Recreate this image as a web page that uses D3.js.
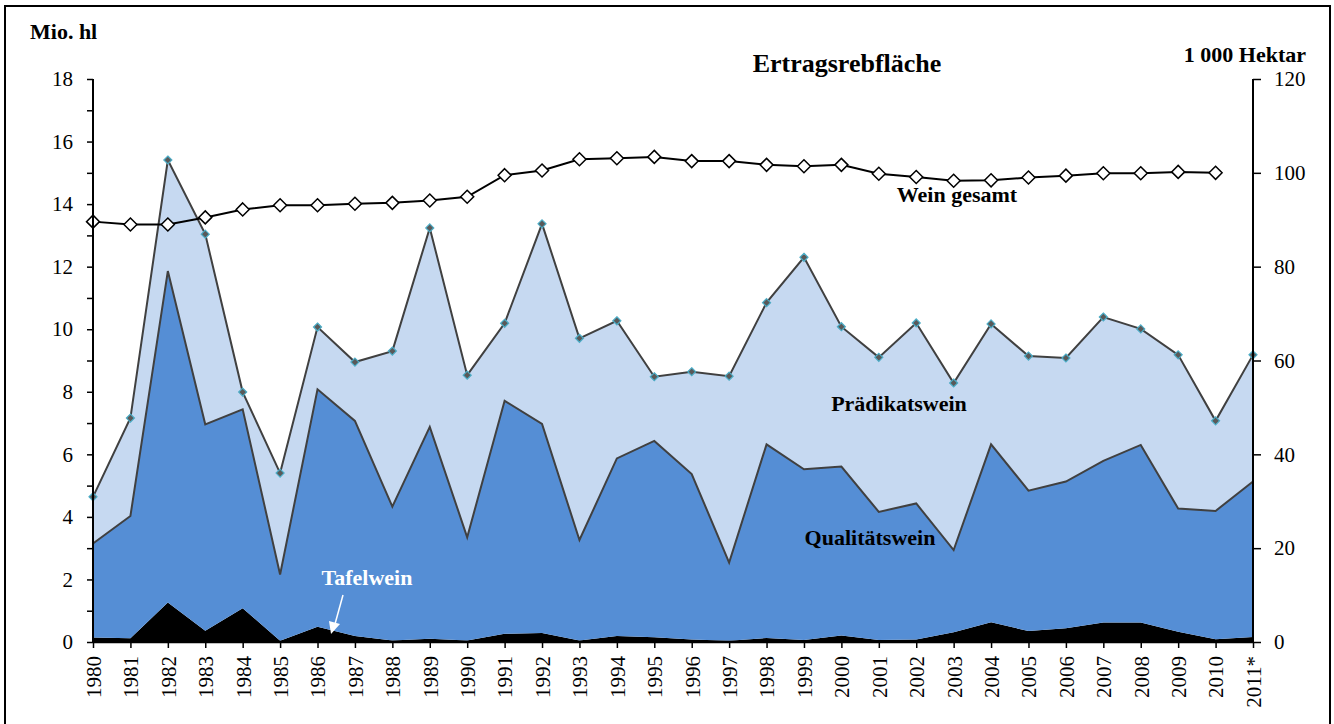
<!DOCTYPE html>
<meta charset="utf-8">
<style>
body { margin: 0; background: #fff; }
text { font-family: "Liberation Serif", "Times New Roman", serif; }
.lbl { font-weight: bold; }
</style>
<svg width="1334" height="724"></svg>
<script src="https://cdn.jsdelivr.net/npm/d3@7"></script>
<script>
var years = ["1980","1981","1982","1983","1984","1985","1986","1987","1988","1989",
  "1990","1991","1992","1993","1994","1995","1996","1997","1998","1999",
  "2000","2001","2002","2003","2004","2005","2006","2007","2008","2009","2010","2011*"];

// Mio. hl, stacked from the bottom
var tafelwein = [0.14,0.12,1.26,0.36,1.08,0.04,0.49,0.19,0.05,0.10,
  0.05,0.26,0.29,0.05,0.19,0.15,0.08,0.04,0.13,0.06,
  0.21,0.06,0.08,0.31,0.63,0.35,0.44,0.62,0.62,0.33,0.09,0.16];
var qualitaetswein = [3.01,3.91,10.60,6.60,6.36,2.12,7.59,6.88,4.28,6.78,
  3.30,7.45,6.68,3.21,5.68,6.28,5.29,2.50,6.19,5.46,
  5.40,4.10,4.35,2.63,5.69,4.49,4.69,5.17,5.68,3.94,4.10,4.97];
var praedikatswein = [1.49,3.13,3.55,6.08,0.55,3.24,1.99,1.88,4.97,6.36,
  5.18,2.48,6.40,6.45,4.40,2.05,3.27,5.96,4.53,6.78,
  4.47,4.94,5.77,5.34,3.85,4.30,3.95,4.60,3.71,4.91,2.88,4.05];

// Ertragsrebfläche, 1 000 Hektar (right axis), 1980-2010
var weinGesamt = [89.6,89.0,89.0,90.5,92.2,93.1,93.1,93.4,93.6,94.1,
  94.9,99.5,100.5,102.9,103.1,103.4,102.5,102.5,101.7,101.4,
  101.7,99.8,99.1,98.3,98.4,99.0,99.4,99.9,99.9,100.2,100.0];

var leftTicks = [0,2,4,6,8,10,12,14,16,18];
var rightTicks = [0,20,40,60,80,100,120];

var svg = d3.select("svg");

var x = d3.scalePoint().domain(years).range([93, 1253]);
var y = d3.scaleLinear().domain([0, 18]).range([642, 79]);
var y2 = d3.scaleLinear().domain([0, 120]).range([642, 79]);

var rows = years.map(function(yr, i) {
  return { year: yr, taf: tafelwein[i], qual: qualitaetswein[i], praed: praedikatswein[i] };
});
var series = d3.stack().keys(["taf", "qual", "praed"])(rows);
var fills = { taf: "#000000", qual: "#558ED5", praed: "#C6D9F1" };

function diamondPath(r) {
  return "M0," + (-r) + "L" + r + ",0L0," + r + "L" + (-r) + ",0Z";
}

// frame
svg.append("rect")
  .attr("x", 5).attr("y", 6).attr("width", 1325).attr("height", 730)
  .attr("fill", "none").attr("stroke", "#000").attr("stroke-width", 2);

var area = d3.area()
  .x(function(d) { return x(d.data.year); })
  .y0(function(d) { return y(d[0]); })
  .y1(function(d) { return y(d[1]); });

var topLine = d3.line()
  .x(function(d) { return x(d.data.year); })
  .y(function(d) { return y(d[1]); });

svg.append("g").selectAll("path")
  .data(series)
  .enter().append("path")
    .attr("d", area)
    .attr("fill", function(s) { return fills[s.key]; });

svg.append("g").selectAll("path")
  .data(series.filter(function(s) { return s.key !== "taf"; }))
  .enter().append("path")
    .attr("d", topLine)
    .attr("fill", "none")
    .attr("stroke", "#404040")
    .attr("stroke-width", 2);

// markers on the total
svg.append("g").selectAll("path")
  .data(series[2])
  .enter().append("path")
    .attr("d", diamondPath(4))
    .attr("transform", function(d) { return "translate(" + x(d.data.year) + "," + y(d[1]) + ")"; })
    .attr("fill", "#595959")
    .attr("stroke", "#4BACC6")
    .attr("stroke-width", 1.2);

// Wein gesamt line
var areaLine = d3.line()
  .x(function(d, i) { return x(years[i]); })
  .y(function(d) { return y2(d); });
svg.append("path")
  .datum(weinGesamt)
  .attr("d", areaLine)
  .attr("fill", "none")
  .attr("stroke", "#000")
  .attr("stroke-width", 2);
svg.append("g").selectAll("path")
  .data(weinGesamt)
  .enter().append("path")
    .attr("d", diamondPath(6.5))
    .attr("transform", function(d, i) { return "translate(" + x(years[i]) + "," + y2(d) + ")"; })
    .attr("fill", "#fff")
    .attr("stroke", "#000")
    .attr("stroke-width", 1.5);

// axes
var leftAxis = svg.append("g")
  .attr("transform", "translate(93,0)")
  .call(d3.axisLeft(y).tickValues(d3.range(0, 19, 1)).tickSize(6)
    .tickFormat(function(d) { return leftTicks.indexOf(d) >= 0 ? d : ""; }));
var rightAxis = svg.append("g")
  .attr("transform", "translate(1253,0)")
  .call(d3.axisRight(y2).tickValues(rightTicks).tickSize(8).tickPadding(13));
var bottomAxis = svg.append("g")
  .attr("transform", "translate(0,642)")
  .call(d3.axisBottom(x).tickSize(6));

[leftAxis, rightAxis, bottomAxis].forEach(function(g) {
  g.select(".domain").attr("stroke", "#000").attr("stroke-width", 2);
  g.selectAll(".tick line").attr("stroke", "#000").attr("stroke-width", 1.5);
  g.selectAll("text").attr("font-family", "Liberation Serif").attr("font-size", 21).attr("fill", "#000");
});
leftAxis.select(".domain").attr("d", "M0,642V79");
rightAxis.select(".domain").attr("d", "M0,642V79");
bottomAxis.select(".domain").attr("d", "M93,0H1253").attr("stroke-width", 2.5);
leftAxis.selectAll("text").attr("x", -20);
bottomAxis.selectAll("text")
  .attr("transform", "rotate(-90)")
  .attr("text-anchor", "end")
  .attr("x", -14)
  .attr("y", 0)
  .attr("dy", "0.35em");

// titles and labels
svg.append("text").attr("class", "lbl").attr("x", 30).attr("y", 39)
  .attr("font-size", 22).text("Mio. hl");
svg.append("text").attr("class", "lbl").attr("x", 1306).attr("y", 62)
  .attr("text-anchor", "end").attr("font-size", 22).text("1 000 Hektar");
svg.append("text").attr("class", "lbl").attr("x", 847).attr("y", 72)
  .attr("text-anchor", "middle").attr("font-size", 26).text("Ertragsrebfläche");
svg.append("text").attr("class", "lbl").attr("x", 957).attr("y", 202)
  .attr("text-anchor", "middle").attr("font-size", 22).text("Wein gesamt");
svg.append("text").attr("class", "lbl").attr("x", 899).attr("y", 411)
  .attr("text-anchor", "middle").attr("font-size", 22).text("Prädikatswein");
svg.append("text").attr("class", "lbl").attr("x", 870).attr("y", 545)
  .attr("text-anchor", "middle").attr("font-size", 22).text("Qualitätswein");
svg.append("text").attr("class", "lbl").attr("x", 367).attr("y", 585)
  .attr("text-anchor", "middle").attr("font-size", 22).attr("fill", "#fff").text("Tafelwein");

// arrow
svg.append("line")
  .attr("x1", 343).attr("y1", 595).attr("x2", 335).attr("y2", 624)
  .attr("stroke", "#fff").attr("stroke-width", 1.5);
svg.append("path")
  .attr("d", "M331,634 L329,621 L340,624 Z")
  .attr("fill", "#fff");
</script>
